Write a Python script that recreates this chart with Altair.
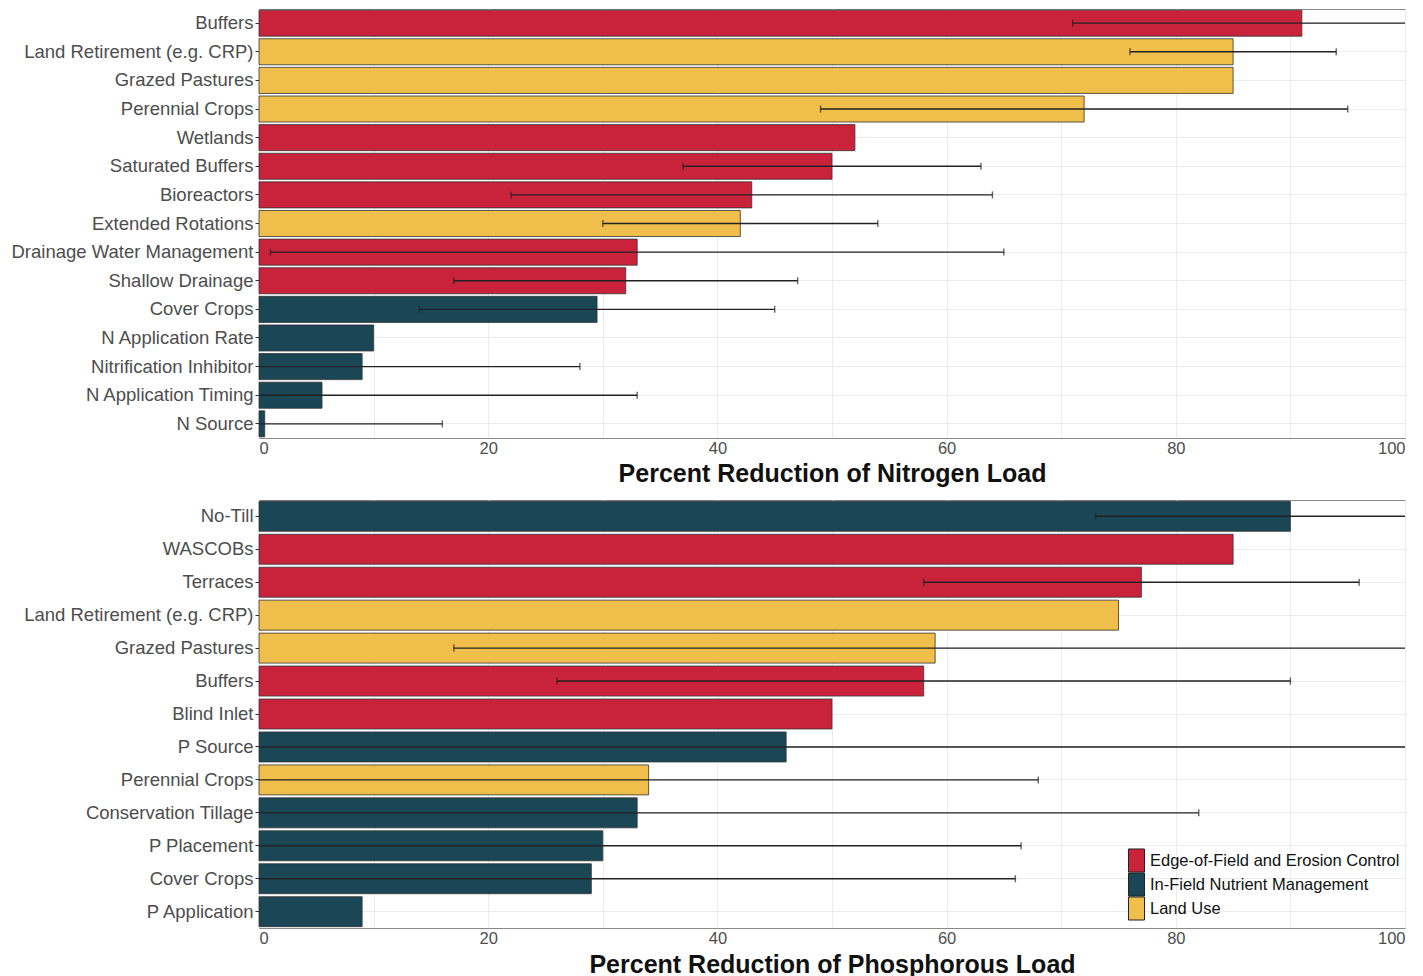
import altair as alt
import pandas as pd

GROUPS = ["Edge-of-Field and Erosion Control", "In-Field Nutrient Management", "Land Use"]
COLORS = ["#C9233B", "#1B4656", "#F0BE4B"]
E, I, L = GROUPS

n_practice = ["Buffers", "Land Retirement (e.g. CRP)", "Grazed Pastures", "Perennial Crops",
              "Wetlands", "Saturated Buffers", "Bioreactors", "Extended Rotations",
              "Drainage Water Management", "Shallow Drainage", "Cover Crops",
              "N Application Rate", "Nitrification Inhibitor", "N Application Timing", "N Source"]
n_group = [E, L, L, L, E, E, E, L, E, E, I, I, I, I, I]
n_value = [91, 85, 85, 72, 52, 50, 43, 42, 33, 32, 29.5, 10, 9, 5.5, 0.5]
n_low = [71, 76, None, 49, None, 37, 22, 30, 1, 17, 14, None, -10, -22, -15]
n_high = [111, 94, None, 95, None, 63, 64, 54, 65, 47, 45, None, 28, 33, 16]

p_practice = ["No-Till", "WASCOBs", "Terraces", "Land Retirement (e.g. CRP)", "Grazed Pastures",
              "Buffers", "Blind Inlet", "P Source", "Perennial Crops", "Conservation Tillage",
              "P Placement", "Cover Crops", "P Application"]
p_group = [I, E, E, L, L, E, E, I, L, I, I, I, I]
p_value = [90, 85, 77, 75, 59, 58, 50, 46, 34, 33, 30, 29, 9]
p_low = [73, None, 58, None, 17, 26, None, -12, -1, -16, -6.5, -8, None]
p_high = [107, None, 96, None, 101, 90, None, 104, 68, 82, 66.5, 66, None]

x_ticks = list(range(0, 101, 10))


def make_df(practice, group, value, low, high):
    return pd.DataFrame({"practice": practice, "group": group, "value": value,
                         "low": pd.array(low, dtype="Float64").astype(float),
                         "high": pd.array(high, dtype="Float64").astype(float)})


def panel(df, title, legend, w, h, title_pad):
    order = list(df["practice"])
    y = alt.Y("practice:N", sort=order, title=None,
              scale=alt.Scale(paddingInner=0.09, paddingOuter=0.04),
              axis=alt.Axis(labelFontSize=18.5, labelColor="#4D4D4D", tickSize=4,
                            tickColor="#333333", labelPadding=2, domain=False,
                            grid=True, gridColor="#EBEBEB", labelLimit=400))
    xs = alt.Scale(domain=[0, 100], nice=False, zero=True)
    xaxis = alt.Axis(values=x_ticks, labelExpr="datum.value % 20 === 0 ? datum.label : ''",
                     ticks=False, labelPadding=2, labelFontSize=16.5, labelColor="#4D4D4D",
                     domainColor="#888888", grid=True, gridColor="#EBEBEB",
                     titleFontSize=25, titleFontWeight="bold", titleColor="#111111",
                     titlePadding=title_pad)
    base = alt.Chart(df)
    bars = base.mark_bar(stroke="#333333", strokeWidth=0.8).encode(
        x=alt.X("value:Q", scale=xs, title=title, axis=xaxis),
        y=y,
        color=alt.Color("group:N", scale=alt.Scale(domain=GROUPS, range=COLORS),
                        legend=legend),
    )
    errbase = base.transform_filter("isValid(datum.low)")
    err = errbase.mark_rule(clip=True, color="#222222", strokeWidth=1.4).encode(
        x=alt.X("low:Q", scale=xs), x2="high:Q", y=y)
    cap_lo = errbase.mark_tick(clip=True, color="#222222", size=7, thickness=1.4).encode(
        x=alt.X("low:Q", scale=xs), y=y)
    cap_hi = errbase.mark_tick(clip=True, color="#222222", size=7, thickness=1.4).encode(
        x=alt.X("high:Q", scale=xs), y=y)
    return alt.layer(bars, err, cap_lo, cap_hi).properties(width=w, height=h)


legend = alt.Legend(title=None, orient="bottom-right", offset=5,
                    symbolType="M-0.89,-1.28H0.89V1.28H-0.89Z", symbolSize=324,
                    symbolStrokeColor="#222222", symbolStrokeWidth=1,
                    labelFontSize=16.5, labelColor="#111111", rowPadding=-6,
                    labelOffset=4, padding=0, labelLimit=0)

top = panel(make_df(n_practice, n_group, n_value, n_low, n_high),
            "Percent Reduction of Nitrogen Load", None, 1146, 429, 5)
bottom = panel(make_df(p_practice, p_group, p_value, p_low, p_high),
               "Percent Reduction of Phosphorous Load", legend, 1146, 428, 6)

chart = alt.vconcat(top, bottom, spacing=12).resolve_legend(color="independent").properties(
    padding={"left": 2, "top": 0, "right": 5, "bottom": 0}
).configure(font="Liberation Sans").configure_view(stroke="#888888", strokeWidth=1)

chart.save("out.html", embed_options={"renderer": "svg", "actions": False})
